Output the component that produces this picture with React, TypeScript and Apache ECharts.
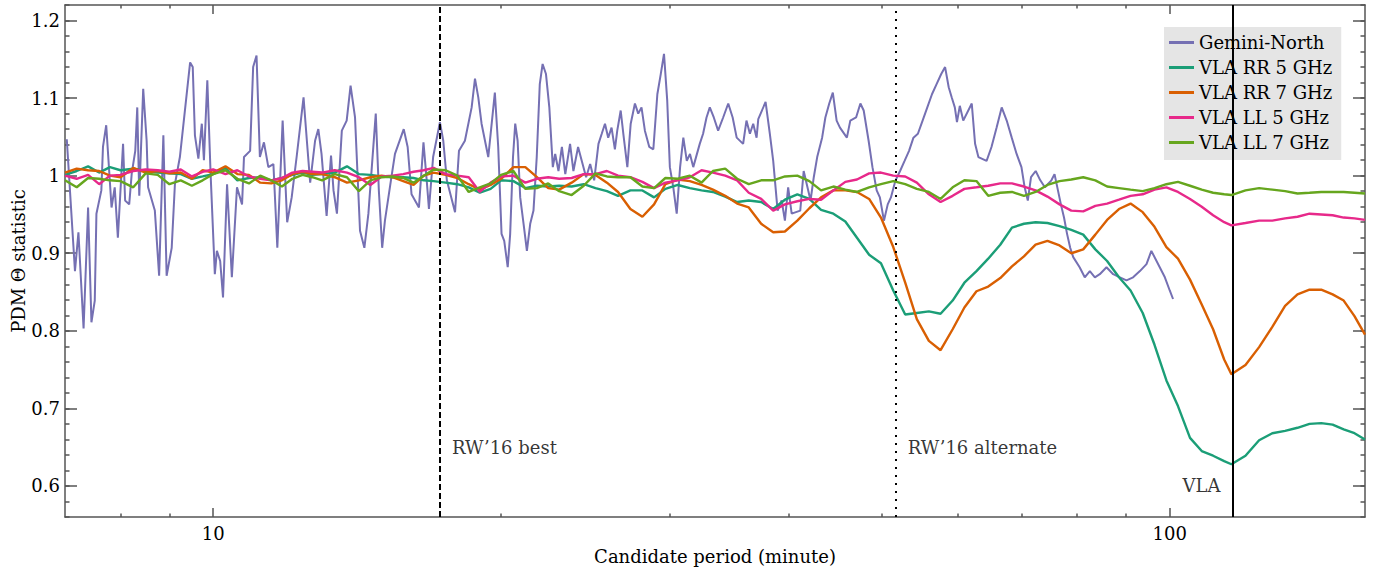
import React, { useEffect, useRef } from 'react';
import * as echarts from 'echarts';

const FONT = "'DejaVu Serif', serif";
const FONT_SIZE = 18;

const seriesNames = ['Gemini-North', 'VLA RR 5 GHz', 'VLA RR 7 GHz', 'VLA LL 5 GHz', 'VLA LL 7 GHz'];
const seriesColors = ['#7570b3', '#1b9e77', '#d95f02', '#e7298a', '#66a61e'];

const xMajorTicks = [10, 100];
const xMinorTicks = [8, 9, 20, 30, 40, 50, 60, 70, 80, 90];
const yMajorTicks = [0.6, 0.7, 0.8, 0.9, 1.0, 1.1, 1.2];

const geminiPeriod = [
  7.03, 7.17, 7.23, 7.32, 7.40, 7.46, 7.52, 7.55, 7.64, 7.67, 7.73, 7.83, 7.89, 7.95, 8.05, 8.09, 8.17, 8.22, 8.29, 8.33,
  8.37, 8.45, 8.52, 8.55, 8.69, 8.78, 8.87, 8.94, 9.05, 9.12, 9.23, 9.46, 9.52, 9.57, 9.65, 9.73, 9.78, 9.86, 9.94, 10.04,
  10.09, 10.17, 10.24, 10.34, 10.46, 10.59, 10.72, 10.77, 10.93, 11.01, 11.10, 11.19, 11.30, 11.42, 11.56, 11.67, 11.82, 11.95,
  12.08, 12.23, 12.43, 12.53, 12.63, 12.78, 12.88, 12.98, 13.14, 13.28, 13.36, 13.47, 13.63, 13.79, 13.92, 14.07, 14.24, 14.39, 14.53, 14.79,
  14.90, 15.02, 15.12, 15.34, 15.49, 15.82, 15.97, 16.12, 16.41, 16.59, 16.72, 16.81, 16.98, 17.26, 17.40, 17.55, 17.90, 18.07, 18.33, 18.63,
  18.78, 18.93, 19.08, 19.39, 19.70, 19.86, 20.02, 20.15, 20.32, 20.44, 20.58, 20.69,
  20.81, 20.94, 21.11, 21.28, 21.45, 21.62, 21.79, 21.95, 22.10, 22.28, 22.46, 22.65, 22.78, 22.96, 23.15, 23.34, 23.61, 23.80, 24.07, 24.54,
  24.78, 25.02, 25.28, 25.48, 25.68, 25.88, 26.09, 26.30, 26.45, 26.67, 26.84, 27.10, 27.32, 27.60, 27.82, 28.04, 28.27, 28.57, 28.85, 29.13,
  29.37, 29.60, 29.83, 30.02, 30.27, 30.52, 30.77, 31.01, 31.27, 31.51, 31.76, 32.26, 32.52, 32.79, 33.05, 33.37, 33.72, 34.13, 34.55, 34.92, 35.26,
  35.81, 36.10, 36.40, 36.69, 36.99, 37.14, 37.80, 38.19, 38.50, 38.91, 39.29, 39.60, 39.91, 40.25, 41.09, 41.43, 42.12, 42.45, 42.80, 43.31,
  43.65, 44.06, 44.44, 44.85, 45.21, 45.97, 46.35, 47.00, 47.49, 47.87, 48.44, 48.89, 49.39, 49.77, 50.26, 50.72, 51.11, 51.68, 52.25, 52.82,
  53.39, 53.96, 54.54, 55.16, 55.79, 56.42, 57.05, 57.69, 58.23, 58.74, 59.16, 59.61, 59.92,
  60.33, 60.83, 62.09, 62.59, 63.09, 64.35, 65.11, 65.92, 66.73, 67.54, 68.36, 69.17, 69.98, 70.52, 71.06, 71.61, 72.42, 73.23, 74.04, 75.21,
  75.78, 76.95, 77.53, 78.10, 78.69, 79.27, 80.50, 81.50, 82.50, 83.51, 84.50, 85.88, 87.27, 88.69, 90.11, 91.56, 93.07, 94.56, 95.67, 97.62,
  98.83, 100.0, 100.8,
];

const geminiTheta = [
  1.047, 0.877, 0.927, 0.803, 0.959, 0.811, 0.839, 0.951, 0.981, 1.037, 1.065, 0.959, 0.985, 0.920, 1.041, 0.968, 0.963, 1.003, 1.032, 1.088,
  0.974, 1.112, 1.045, 0.985, 0.955, 0.871, 1.052, 0.871, 0.907, 0.989, 1.024, 1.146, 1.140, 1.052, 1.022, 1.067, 1.020, 1.123, 1.000, 0.873,
  0.903, 0.890, 0.843, 0.989, 0.869, 0.985, 0.963, 1.024, 1.032, 1.140, 1.155, 1.024, 1.043, 1.011, 1.015, 0.907, 1.071, 0.940,
  0.972, 1.026, 1.101, 1.045, 0.991, 1.045, 1.060, 1.028, 0.948, 1.026, 0.981, 0.951, 1.058, 1.071, 1.116, 1.075, 0.929, 0.907, 0.951, 1.080,
  0.981, 0.907, 0.942, 0.994, 1.028, 1.060, 1.037, 0.976, 0.959, 1.043, 0.994, 0.957, 1.024, 1.069, 1.045, 0.994, 0.953, 1.032, 1.045, 1.088,
  1.125, 1.101, 1.067, 1.024, 1.107, 1.037, 0.925, 0.916, 0.882, 0.925, 1.024, 1.067,
  1.045, 0.972, 0.938, 0.903, 0.938, 0.955, 1.024, 1.118, 1.144, 1.131, 1.088, 1.011, 1.028, 1.006, 1.037, 1.002, 1.041, 1.006, 1.037, 0.998,
  1.015, 0.994, 1.041, 1.054, 1.067, 1.049, 1.062, 1.034, 1.058, 1.084, 1.054, 1.011, 1.067, 1.093, 1.080, 1.088, 1.058, 1.037, 1.034, 1.105,
  1.131, 1.157, 1.097, 1.011, 0.985, 0.951, 1.011, 1.049, 1.019, 1.028, 1.011, 1.041, 1.054, 1.075, 1.088, 1.075, 1.058, 1.075, 1.093, 1.075, 1.049,
  1.041, 1.071, 1.054, 1.067, 1.049, 1.073, 1.095, 1.054, 1.019, 0.955, 0.968, 0.942, 0.985, 0.951, 0.955, 1.006, 0.968, 0.998, 1.024, 1.049,
  1.075, 1.093, 1.107, 1.071, 1.062, 1.049, 1.071, 1.075, 1.093, 1.084, 1.045, 1.011, 0.981, 0.972, 0.942, 0.963, 0.972, 0.994, 1.006, 1.019,
  1.032, 1.049, 1.054, 1.071, 1.088, 1.105, 1.118, 1.131, 1.140, 1.114, 1.101, 1.088, 1.069,
  1.090, 1.071, 1.093, 1.041, 1.024, 1.019, 1.037, 1.062, 1.088, 1.071, 1.049, 1.028, 1.011, 0.985, 0.968, 0.998, 1.006, 0.994, 0.985, 0.994,
  1.002, 0.963, 0.946, 0.925, 0.907, 0.895, 0.882, 0.869, 0.877, 0.869, 0.873, 0.882, 0.873, 0.869, 0.865, 0.869, 0.877, 0.886, 0.903, 0.882,
  0.869, 0.852, 0.841,
];

const vlaPeriod = [
  7.0, 7.2, 7.4, 7.6, 7.8, 8.0, 8.25, 8.5, 8.75, 9.0, 9.25, 9.5, 9.75, 10, 10.3, 10.6, 10.9, 11.2, 11.5, 11.8,
  12.1, 12.4, 12.7, 13.0, 13.4, 13.8, 14.2, 14.6, 15.0, 15.4, 15.8, 16.2, 16.6, 17.0, 17.5, 18.0, 18.5, 19.0, 19.5, 20,
  20.6, 21.2, 21.8, 22.4, 23.0, 23.7, 24.4, 25.1, 25.8, 26.5, 27.3, 28.1, 28.9, 29.7, 30.6, 31.5, 32.4, 33.3, 34.3,
  35.3, 36.3, 37.4, 38.5, 39.6, 40.8, 42.0, 43.2, 44.5, 45.8, 47.1, 48.5, 49.9, 51.4, 52.9, 54.4, 56.0, 57.6, 59.3,
  61.0, 62.8, 64.6, 66.5, 68.4, 70.4, 72.4, 74.5, 76.7, 78.9, 81.2, 83.6, 86.0, 88.5, 91.0, 93.7, 96.4, 99.2,
  102, 105, 108, 111, 114, 116, 120, 124, 128, 132, 136, 140, 144, 148, 152, 156, 160,
];

const rr5 = [
  1.001, 1.006, 1.012, 1.004, 1.011, 1.007, 1.009, 1.006, 1.004, 1.003, 1.002, 0.996, 0.999, 1.002, 1.010, 0.994, 0.997, 0.998, 0.994, 0.997,
  1.001, 1.004, 1.001, 1.002, 1.004, 1.012, 1.002, 1.001, 0.999, 0.998, 0.998, 0.997, 0.994, 0.993, 0.991, 0.989, 0.985, 0.978, 0.983, 0.994,
  0.993, 0.984, 0.987, 0.986, 0.987, 0.986, 0.989, 0.984, 0.980, 0.974, 0.981, 0.981, 0.972, 0.983, 0.988, 0.984, 0.981, 0.979, 0.973,
  0.966, 0.968, 0.966, 0.957, 0.969, 0.976, 0.970, 0.956, 0.951, 0.941, 0.920, 0.898, 0.887, 0.852, 0.821, 0.823, 0.825, 0.822, 0.839,
  0.862, 0.877, 0.893, 0.911, 0.933, 0.938, 0.940, 0.939, 0.935, 0.930, 0.924, 0.905, 0.890, 0.869, 0.852, 0.823, 0.782, 0.736,
  0.703, 0.662, 0.645, 0.639, 0.632, 0.628, 0.639, 0.659, 0.668, 0.671, 0.675, 0.680, 0.681, 0.679, 0.673, 0.668, 0.660,
];

const rr7 = [
  1.004, 1.009, 1.007, 1.006, 1.000, 0.998, 1.010, 1.004, 1.006, 1.003, 1.004, 0.996, 1.007, 1.004, 1.012, 1.002, 1.001, 0.991, 0.990, 0.994,
  1.002, 1.005, 1.002, 1.002, 0.998, 0.991, 0.994, 0.998, 1.000, 0.998, 0.993, 0.988, 1.000, 1.004, 1.001, 0.997, 0.989, 0.982, 0.988, 0.996,
  1.011, 1.011, 0.998, 0.984, 0.982, 0.991, 1.002, 1.001, 0.991, 0.979, 0.957, 0.947, 0.963, 0.989, 0.995, 0.993, 0.988, 0.982, 0.974,
  0.964, 0.959, 0.938, 0.927, 0.928, 0.942, 0.958, 0.972, 0.981, 0.981, 0.979, 0.970, 0.946, 0.908, 0.862, 0.815, 0.787, 0.775, 0.802,
  0.830, 0.851, 0.857, 0.868, 0.883, 0.896, 0.911, 0.916, 0.910, 0.900, 0.905, 0.924, 0.943, 0.957, 0.964, 0.953, 0.934, 0.908,
  0.893, 0.866, 0.834, 0.802, 0.763, 0.744, 0.756, 0.779, 0.805, 0.832, 0.847, 0.853, 0.853, 0.847, 0.839, 0.819, 0.795,
];

const ll5 = [
  1.000, 0.996, 1.001, 0.989, 1.000, 1.001, 1.006, 1.008, 1.007, 1.005, 1.008, 0.999, 1.005, 1.008, 1.002, 1.007, 0.999, 0.996, 0.994, 0.997,
  1.004, 1.006, 1.005, 1.004, 1.007, 1.004, 0.998, 0.988, 0.999, 1.000, 1.002, 1.005, 1.007, 1.010, 1.002, 1.000, 0.998, 0.979, 0.991, 0.999,
  1.000, 0.991, 0.996, 0.998, 0.996, 0.997, 1.002, 1.002, 1.006, 1.000, 0.998, 0.992, 0.984, 0.991, 0.994, 0.998, 1.007, 1.004, 1.000,
  0.994, 0.978, 0.970, 0.955, 0.963, 0.967, 0.970, 0.969, 0.981, 0.992, 0.995, 1.003, 1.004, 1.000, 0.999, 0.991, 0.976, 0.966, 0.974,
  0.983, 0.985, 0.987, 0.990, 0.990, 0.986, 0.981, 0.973, 0.963, 0.955, 0.954, 0.961, 0.964, 0.969, 0.974, 0.976, 0.982, 0.985,
  0.979, 0.970, 0.960, 0.949, 0.940, 0.936, 0.939, 0.942, 0.942, 0.945, 0.947, 0.951, 0.950, 0.949, 0.946, 0.945, 0.943,
];

const ll7 = [
  0.994, 0.985, 0.997, 0.996, 0.994, 0.993, 0.985, 1.003, 1.001, 0.989, 0.994, 0.987, 0.994, 1.002, 1.007, 0.996, 0.990, 1.000, 0.994, 0.986,
  0.996, 1.001, 0.998, 0.994, 1.002, 0.998, 0.980, 0.994, 0.998, 0.999, 0.997, 0.991, 1.000, 1.008, 1.007, 1.000, 0.979, 0.985, 0.990, 1.001,
  1.006, 0.983, 0.984, 0.990, 0.980, 0.975, 0.987, 1.003, 0.999, 0.998, 0.998, 0.986, 0.984, 0.997, 0.996, 1.000, 0.991, 1.006, 1.009,
  0.996, 0.989, 0.994, 0.994, 0.999, 1.000, 0.993, 0.981, 0.986, 0.982, 0.979, 0.985, 0.989, 0.993, 0.989, 0.983, 0.979, 0.970, 0.985,
  0.994, 0.993, 0.974, 0.978, 0.979, 0.974, 0.979, 0.988, 0.993, 0.995, 0.998, 0.994, 0.986, 0.984, 0.982, 0.980, 0.984, 0.989,
  0.992, 0.987, 0.982, 0.978, 0.976, 0.975, 0.981, 0.984, 0.982, 0.980, 0.977, 0.978, 0.979, 0.979, 0.979, 0.978, 0.977,
];

// reference lines: period (minute), annotation text, text anchor theta, text side, dash
const refLabels = ['RW\u201916 best', 'RW\u201916 alternate', 'VLA'];
const refPeriods = [17.26, 51.7, 116.3];
const refTextTheta = [0.65, 0.65, 0.6];
const refTextSide = ['right', 'right', 'left'];
const refDash: any[] = [[6, 3], [2, 6], 'solid'];

const xTitle = 'Candidate period (minute)';
const yTitle = 'PDM \u0398 statistic';

export default function App() {
  const ref = useRef<HTMLDivElement>(null);

  useEffect(() => {
    const chart = echarts.init(ref.current!, null, { renderer: 'svg' });
    const axisColor = '#555';
    const textColor = '#000';
    const zip = (xs: number[], ys: number[]) => xs.map((x, i) => [x, ys[i]]);
    const tickStyle = { color: axisColor, width: 1.5 };

    const xBase = { type: 'log', logBase: 10, min: 7, max: 160, splitLine: { show: false }, minorSplitLine: { show: false } };
    const yBase = { type: 'value', min: 0.56, max: 1.22, splitLine: { show: false } };

    const makeX = (position: string, main: boolean) => [
      {
        ...xBase,
        position,
        axisLine: { show: true, onZero: false, lineStyle: { color: axisColor, width: 1.5 } },
        axisTick: { show: true, inside: true, length: 9, customValues: xMajorTicks, lineStyle: tickStyle },
        axisLabel: main
          ? { show: true, customValues: xMajorTicks, fontFamily: FONT, fontSize: FONT_SIZE, color: textColor, margin: 7 }
          : { show: false },
        ...(main
          ? {
              name: xTitle,
              nameLocation: 'middle',
              nameGap: 30,
              nameTextStyle: { fontFamily: FONT, fontSize: FONT_SIZE, color: textColor },
            }
          : {}),
      },
      {
        ...xBase,
        position,
        axisLine: { show: false, onZero: false },
        axisTick: { show: true, inside: true, length: 3.5, customValues: xMinorTicks, lineStyle: tickStyle },
        axisLabel: { show: false },
      },
    ];

    const makeY = (position: string, main: boolean) => [
      {
        ...yBase,
        position,
        axisLine: { show: true, onZero: false, lineStyle: { color: axisColor, width: 1.5 } },
        axisTick: { show: true, inside: true, length: 12, customValues: yMajorTicks, lineStyle: tickStyle },
        axisLabel: main
          ? {
              show: true,
              customValues: yMajorTicks,
              fontFamily: FONT,
              fontSize: FONT_SIZE,
              color: textColor,
              margin: 5,
              formatter: (v: number) => (Math.abs(v - 1) < 1e-9 ? '1' : v.toFixed(1)),
            }
          : { show: false },
        ...(main
          ? {
              name: yTitle,
              nameLocation: 'middle',
              nameGap: 38,
              nameMoveOverlap: false,
              nameTextStyle: { fontFamily: FONT, fontSize: FONT_SIZE, color: textColor },
            }
          : {}),
      },
      {
        ...yBase,
        position,
        interval: 0.02,
        axisLine: { show: false, onZero: false },
        axisTick: { show: true, inside: true, length: 4.5, lineStyle: tickStyle },
        axisLabel: { show: false },
      },
    ];

    const lineSeries = [
      zip(geminiPeriod, geminiTheta),
      zip(vlaPeriod, rr5),
      zip(vlaPeriod, rr7),
      zip(vlaPeriod, ll5),
      zip(vlaPeriod, ll7),
    ].map((data, i) => ({
      name: seriesNames[i],
      type: 'line',
      data,
      xAxisIndex: 0,
      yAxisIndex: 0,
      showSymbol: false,
      symbol: 'none',
      smooth: false,
      color: seriesColors[i],
      lineStyle: { color: seriesColors[i], width: i === 0 ? 2 : 2.4 },
      silent: true,
      z: 2 + i,
    }));

    const option: any = {
      animation: false,
      grid: { left: 65, top: 5, width: 1300, height: 512, containLabel: false, outerBoundsMode: 'none' },
      legend: {
        data: seriesNames,
        orient: 'vertical',
        left: 1164,
        top: 27,
        backgroundColor: '#e5e5e5',
        borderWidth: 0,
        padding: [6, 9, 8, 5],
        itemGap: 6,
        itemWidth: 25,
        itemHeight: 3,
        icon: 'rect',
        selectedMode: false,
        textStyle: { fontFamily: FONT, fontSize: FONT_SIZE, color: textColor, lineHeight: 19 },
      },
      xAxis: [...makeX('bottom', true), ...makeX('top', false)],
      yAxis: [...makeY('left', true), ...makeY('right', false)],
      series: [
        ...lineSeries,
        {
          name: 'annotations',
          type: 'scatter',
          xAxisIndex: 0,
          yAxisIndex: 0,
          symbolSize: 0,
          silent: true,
          z: 10,
          data: refPeriods.map((p, i) => ({
            value: [p, refTextTheta[i]],
            label: {
              show: true,
              formatter: refLabels[i],
              position: refTextSide[i],
              distance: 12,
              fontFamily: FONT,
              fontSize: FONT_SIZE,
              color: textColor,
            },
          })),
          markLine: {
            silent: true,
            symbol: ['none', 'none'],
            label: { show: false },
            animation: false,
            lineStyle: { color: '#000', width: 2 },
            data: refPeriods.map((p, i) => ({
              xAxis: p,
              lineStyle: { color: '#000', width: 2, type: refDash[i] },
            })),
          },
        },
      ],
    };

    chart.setOption(option);
    return () => chart.dispose();
  }, []);

  return (
    <div
      ref={ref}
      style={{ position: 'absolute', left: 0, top: 0, width: 1379, height: 572, background: '#fff' }}
    />
  );
}
